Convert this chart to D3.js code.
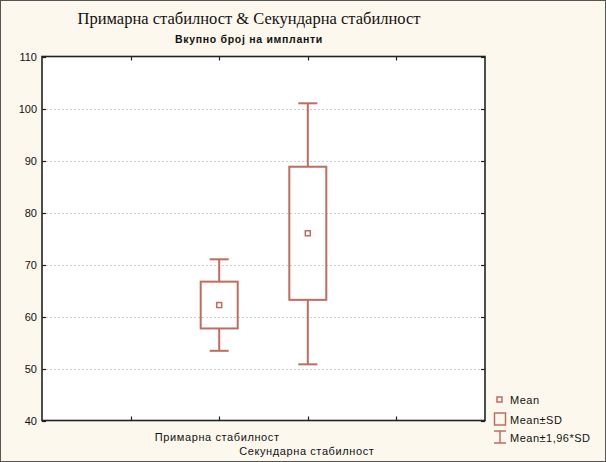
<!DOCTYPE html>
<html>
<head>
<meta charset="utf-8">
<script src="https://cdn.jsdelivr.net/npm/d3@7"></script>
<style>
  body { margin: 0; background: #fdf8ee; }
  svg { display: block; }
</style>
</head>
<body>
<div id="chart"></div>
<script>

var categories = ["Примарна стабилност", "Секундарна стабилност"];
var means = [62.2, 76.0];
var sdLow = [57.7, 63.2];
var sdHigh = [66.7, 88.8];
var ciLow = [53.4, 50.8];
var ciHigh = [71.0, 101.0];
var yTicks = [40, 50, 60, 70, 80, 90, 100, 110];
var legendLabels = ["Mean", "Mean±SD", "Mean±1,96*SD"];

var W = 606, H = 462;
// note: "top" is a window property, so use other names
var pLeft = 42, pRight = 485, pTop = 56.5, pBottom = 420.5;
var boxColor = "#bf6d5f";

var svg = d3.select("#chart").append("svg")
    .attr("width", W).attr("height", H);

svg.append("rect").attr("x", 0.5).attr("y", 0.5)
    .attr("width", W - 1).attr("height", H - 1)
    .attr("fill", "#fdf8ee").attr("stroke", "#555");

// x slots: one empty slot either side of the two categories
var xDomain = [""].concat(categories).concat([" "]);
var x = d3.scalePoint().domain(xDomain).range([pLeft, pRight]).padding(1);
var y = d3.scaleLinear().domain([40, 110]).range([pBottom, pTop]);

svg.append("rect").attr("x", pLeft).attr("y", pTop)
    .attr("width", pRight - pLeft).attr("height", pBottom - pTop)
    .attr("fill", "#fff");

// dotted grid
svg.append("g").selectAll("line")
    .data(yTicks.filter(function (d) { return d > 40 && d < 110; }))
    .enter().append("line")
    .attr("x1", pLeft).attr("x2", pRight)
    .attr("y1", function (d) { return Math.round(y(d)) + 0.5; })
    .attr("y2", function (d) { return Math.round(y(d)) + 0.5; })
    .attr("stroke", "#dcc9c9").attr("stroke-dasharray", "2,2");

// inward ticks
var tk = svg.append("g").attr("stroke", "#222").attr("stroke-width", 1.2);
yTicks.forEach(function (d) {
    var yy = Math.round(y(d)) + 0.5;
    tk.append("line").attr("x1", pLeft).attr("x2", pLeft + 4).attr("y1", yy).attr("y2", yy);
    tk.append("line").attr("x1", pRight - 4).attr("x2", pRight).attr("y1", yy).attr("y2", yy);
});
xDomain.forEach(function (d) {
    var xx = Math.round(x(d)) + 0.5;
    tk.append("line").attr("x1", xx).attr("x2", xx).attr("y1", pTop).attr("y2", pTop + 4);
    tk.append("line").attr("x1", xx).attr("x2", xx).attr("y1", pBottom - 4).attr("y2", pBottom);
});

svg.append("rect").attr("x", pLeft).attr("y", pTop)
    .attr("width", pRight - pLeft).attr("height", pBottom - pTop)
    .attr("fill", "none").attr("stroke", "#222").attr("stroke-width", 1.6);

// y labels
svg.append("g").selectAll("text").data(yTicks).enter().append("text")
    .attr("x", 37).attr("y", function (d) { return y(d) + 4; })
    .attr("text-anchor", "end")
    .attr("font-family", "Liberation Sans, Arial, sans-serif")
    .attr("font-size", 11).attr("fill", "#111")
    .text(function (d) { return d; });

// boxes
var boxW = 37, capW = 19;
var g = svg.append("g").attr("stroke", boxColor).attr("stroke-width", 2).attr("fill", "none");
categories.forEach(function (c, i) {
    var cx = x(c);
    g.append("line").attr("x1", cx).attr("x2", cx).attr("y1", y(ciHigh[i])).attr("y2", y(sdHigh[i]));
    g.append("line").attr("x1", cx).attr("x2", cx).attr("y1", y(sdLow[i])).attr("y2", y(ciLow[i]));
    g.append("line").attr("x1", cx - capW / 2).attr("x2", cx + capW / 2).attr("y1", y(ciHigh[i])).attr("y2", y(ciHigh[i]));
    g.append("line").attr("x1", cx - capW / 2).attr("x2", cx + capW / 2).attr("y1", y(ciLow[i])).attr("y2", y(ciLow[i]));
    g.append("rect").attr("x", cx - boxW / 2).attr("y", y(sdHigh[i]))
        .attr("width", boxW).attr("height", y(sdLow[i]) - y(sdHigh[i]));
    g.append("rect").attr("x", cx - 2.5).attr("y", y(means[i]) - 2.5)
        .attr("width", 5).attr("height", 5).attr("stroke-width", 1.5);
});

// x labels, staggered
svg.append("g").selectAll("text").data(categories).enter().append("text")
    .attr("x", function (d, i) { return x(d) + (i == 0 ? -2 : -1); })
    .attr("y", function (d, i) { return i == 0 ? 441 : 455; })
    .attr("text-anchor", "middle")
    .attr("font-family", "Liberation Sans, Arial, sans-serif")
    .attr("font-size", 11).attr("letter-spacing", 0.6).attr("fill", "#111")
    .text(function (d) { return d; });

// titles
svg.append("text").attr("x", 249).attr("y", 24).attr("text-anchor", "middle")
    .attr("font-family", "Liberation Serif, Times New Roman, serif")
    .attr("font-size", 16.5).attr("fill", "#111")
    .text("Примарна стабилност & Секундарна стабилност");
svg.append("text").attr("x", 249).attr("y", 43).attr("text-anchor", "middle")
    .attr("font-family", "Liberation Sans, Arial, sans-serif")
    .attr("font-size", 10.5).attr("font-weight", "bold").attr("letter-spacing", 0.7)
    .attr("fill", "#111")
    .text("Вкупно број на импланти");

// legend
var lg = svg.append("g").attr("stroke", boxColor).attr("fill", "none");
lg.append("rect").attr("x", 497).attr("y", 397).attr("width", 5).attr("height", 5).attr("stroke-width", 1.5);
lg.append("rect").attr("x", 494.5).attr("y", 413).attr("width", 11).attr("height", 12).attr("stroke-width", 1.5);
lg.append("line").attr("x1", 500).attr("x2", 500).attr("y1", 431).attr("y2", 443).attr("stroke-width", 1.5);
lg.append("line").attr("x1", 494).attr("x2", 506).attr("y1", 431).attr("y2", 431).attr("stroke-width", 1.5);
lg.append("line").attr("x1", 494).attr("x2", 506).attr("y1", 443).attr("y2", 443).attr("stroke-width", 1.5);

svg.append("g").selectAll("text").data(legendLabels).enter().append("text")
    .attr("x", 510).attr("y", function (d, i) { return [404, 424, 442][i]; })
    .attr("font-family", "Liberation Sans, Arial, sans-serif")
    .attr("font-size", 11).attr("letter-spacing", 0.5).attr("fill", "#111")
    .text(function (d) { return d; });

</script>
</body>
</html>
